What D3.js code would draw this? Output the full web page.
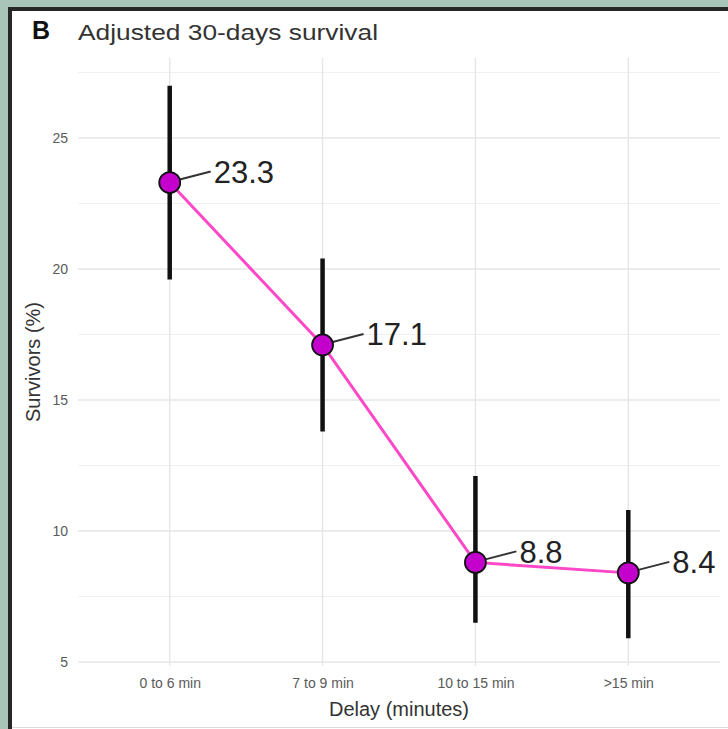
<!DOCTYPE html>
<html>
<head>
<meta charset="utf-8">
<script src="https://cdn.jsdelivr.net/npm/d3@7"></script>
<style>
  html, body { margin: 0; padding: 0; background: #a9c5b9; }
  svg { display: block; }
  text { font-family: "Liberation Sans", Arial, Helvetica, sans-serif; }
</style>
</head>
<body>
<svg id="chart" width="728" height="729"></svg>
<script>
// Adjusted 30-day survival by delay category, with confidence intervals
const categories = ["0 to 6 min", "7 to 9 min", "10 to 15 min", ">15 min"];
const survival = [23.3, 17.1, 8.8, 8.4];
const lower = [19.6, 13.8, 6.5, 5.9];
const upper = [27.0, 20.4, 12.1, 10.8];
const yTicks = [5, 10, 15, 20, 25];
const yMinorTicks = [7.5, 12.5, 17.5, 22.5, 27.5];

const W = 728, H = 729;
const svg = d3.select("#chart");

// framed white card
svg.append("rect").attr("x", 0).attr("y", 0).attr("width", W).attr("height", H).attr("fill", "#a9c5b9");
svg.append("rect").attr("x", 12).attr("y", 11).attr("width", W - 12).attr("height", H - 11).attr("fill", "#ffffff");
svg.append("line").attr("x1", 10).attr("x2", 10).attr("y1", 7).attr("y2", H)
  .attr("stroke", "#262626").attr("stroke-width", 4);
svg.append("line").attr("x1", 8).attr("x2", W).attr("y1", 9).attr("y2", 9)
  .attr("stroke", "#262626").attr("stroke-width", 4);
svg.append("line").attr("x1", 12).attr("x2", W).attr("y1", 727.5).attr("y2", 727.5)
  .attr("stroke", "#dcdcdc").attr("stroke-width", 1);

const panel = { left: 78, right: 720, top: 58, bottom: 666 };

const x = d3.scalePoint().domain(categories).range([panel.left, panel.right]).padding(0.6);

const lo = d3.min(lower), hi = d3.max(upper), pad = (hi - lo) * 0.05;
const y = d3.scaleLinear().domain([lo - pad, hi + pad]).range([panel.bottom, panel.top]);

// grid
const grid = svg.append("g");
grid.selectAll(".minor").data(yMinorTicks).join("line")
  .attr("x1", panel.left).attr("x2", panel.right)
  .attr("y1", d => y(d)).attr("y2", d => y(d))
  .attr("stroke", "#f0f0f0").attr("stroke-width", 1);
grid.selectAll(".major").data(yTicks).join("line")
  .attr("x1", panel.left).attr("x2", panel.right)
  .attr("y1", d => y(d)).attr("y2", d => y(d))
  .attr("stroke", "#e6e6e6").attr("stroke-width", 1.4);
grid.selectAll(".vmajor").data(categories).join("line")
  .attr("x1", d => x(d)).attr("x2", d => x(d))
  .attr("y1", panel.top).attr("y2", panel.bottom)
  .attr("stroke", "#e6e6e6").attr("stroke-width", 1.4);

// axes (labels only)
const yAxis = svg.append("g").attr("transform", `translate(${panel.left - 10},0)`)
  .call(d3.axisLeft(y).tickValues(yTicks).tickSize(0).tickPadding(0));
yAxis.select(".domain").remove();
yAxis.selectAll("text").attr("font-size", 14).attr("fill", "#5a5a5a");

const xAxis = svg.append("g").attr("transform", `translate(0,${panel.bottom + 12})`)
  .call(d3.axisBottom(x).tickSize(0).tickPadding(0));
xAxis.select(".domain").remove();
xAxis.selectAll("text").attr("font-size", 14).attr("fill", "#5a5a5a");

// axis titles
svg.append("text").attr("x", (panel.left + panel.right) / 2).attr("y", 716)
  .attr("text-anchor", "middle").attr("font-size", 20).attr("fill", "#333")
  .text("Delay (minutes)");
svg.append("text").attr("transform", `translate(40,${(panel.top + panel.bottom) / 2}) rotate(-90)`)
  .attr("text-anchor", "middle").attr("font-size", 20).attr("fill", "#333")
  .text("Survivors (%)");

// panel tag and title
svg.append("text").attr("x", 32).attr("y", 39).attr("font-size", 25).attr("font-weight", "bold")
  .attr("fill", "#111").text("B");
svg.append("text").attr("x", 78).attr("y", 40).attr("font-size", 22).attr("fill", "#333")
  .attr("textLength", 300).attr("lengthAdjust", "spacingAndGlyphs")
  .text("Adjusted 30-days survival");

const pts = categories.map((c, i) => ({ c, v: survival[i], lo: lower[i], hi: upper[i] }));

// connecting line
svg.append("path").datum(pts)
  .attr("d", d3.line().x(d => x(d.c)).y(d => y(d.v)))
  .attr("fill", "none").attr("stroke", "#ff48c8").attr("stroke-width", 3);

// confidence intervals
svg.selectAll(".ci").data(pts).join("line")
  .attr("x1", d => x(d.c)).attr("x2", d => x(d.c))
  .attr("y1", d => y(d.lo)).attr("y2", d => y(d.hi))
  .attr("stroke", "#111").attr("stroke-width", 4.5);

// value labels with leader lines
const lab = { dx: 44, dy: -11 };
svg.selectAll(".leader").data(pts).join("line")
  .attr("x1", d => x(d.c) + 10).attr("y1", d => y(d.v) - 3)
  .attr("x2", d => x(d.c) + lab.dx - 3).attr("y2", d => y(d.v) + lab.dy)
  .attr("stroke", "#333").attr("stroke-width", 2);
svg.selectAll(".val").data(pts).join("text")
  .attr("x", d => x(d.c) + lab.dx).attr("y", d => y(d.v) + lab.dy)
  .attr("dy", "0.36em").attr("font-size", 31).attr("fill", "#222")
  .text(d => d3.format(".1f")(d.v));

// points
svg.selectAll(".pt").data(pts).join("circle")
  .attr("cx", d => x(d.c)).attr("cy", d => y(d.v)).attr("r", 10.5)
  .attr("fill", "#c300cc").attr("stroke", "#111").attr("stroke-width", 1.8);
</script>
</body>
</html>
